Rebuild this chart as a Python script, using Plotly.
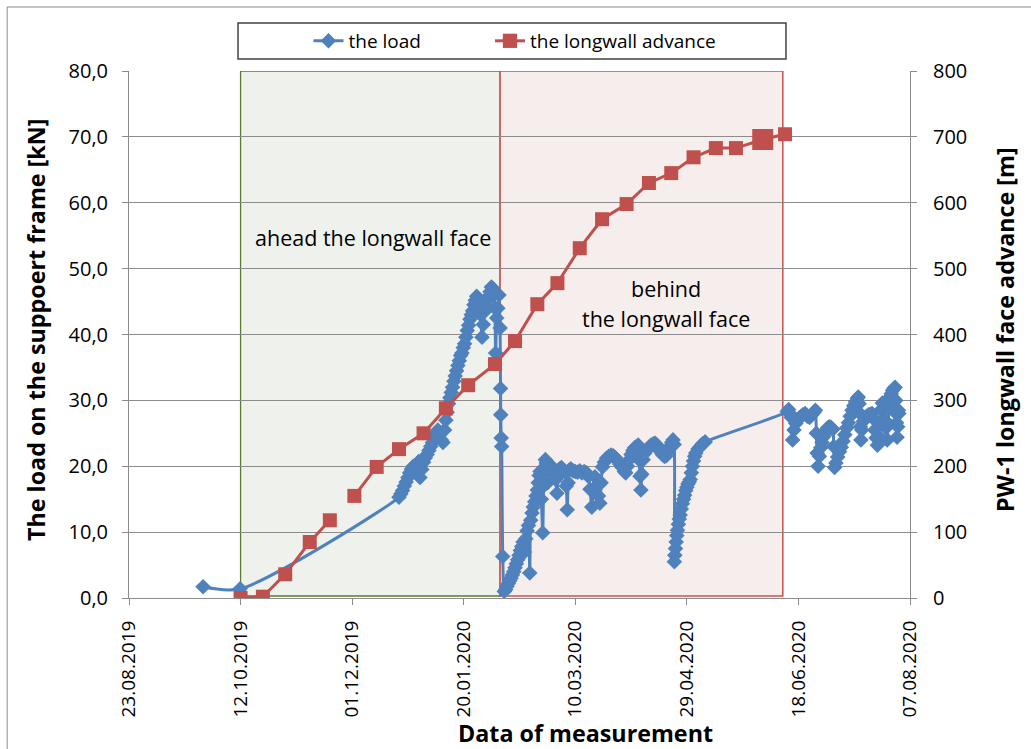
import pandas as pd
import plotly.graph_objects as go

BASE = "2019-08-23"

# ---- the longwall advance (right axis, m) ----
adv_date = ["2019-10-12", "2019-10-22", "2019-11-01", "2019-11-12", "2019-11-21", None,
            "2019-12-02", "2019-12-12", "2019-12-22", "2020-01-02", "2020-01-12",
            "2020-01-22", "2020-02-03", "2020-02-12", "2020-02-22", "2020-03-02",
            "2020-03-12", "2020-03-22", "2020-04-02", "2020-04-12", "2020-04-22",
            "2020-05-02", "2020-05-12", "2020-05-21", "2020-06-02", "2020-06-12"]
adv_val = [0, 2, 36, 85, 118, None,
           155, 199, 226, 250, 288,
           323, 355, 390, 446, 478,
           531, 575, 598, 630, 645,
           669, 683, 683, 696, 704]

# ---- the load (left axis, kN); days counted from 23.08.2019 ----
load_day = [33.2, 49.8, 121.0,
            121.8, 122.6, 123.4, 124.2, 125.0, 125.8, 126.6, 127.4, 128.2, 129.0, 129.8, 130.4,
            131.2, 132.0, 132.8, 133.6, 134.4, 135.2, 136.0, 136.8, 137.6, 138.4, 139.2, 140.0,
            140.7, 141.4, 142.0, 142.6, 143.2, 143.8, 144.4, 145.0, 145.6, 146.2, 146.8, 147.4,
            148.0, 148.6, 149.2, 149.8, 150.4, 151.0, 151.6, 152.2, 152.8, 153.4, 154.0, 154.6,
            155.2, 155.8, 156.4, 157.0, 157.6, 158.2, 158.8, 159.4, 160.0, 160.6, 161.2, 161.8,
            162.4, 163.0, 163.6, 164.0, 164.3, 164.8, 165.3, 165.8, 166.3, 166.5, 166.6, 166.8,
            167.0, 167.5, 168.2,
            168.8, 169.4, 170.0, 170.6, 171.2, 171.8, 172.4, 173.0, 173.6, 174.2, 174.8, 175.4,
            176.0, 176.6, 177.2, 177.8, 178.4, 179.0, 179.6, 180.0, 180.6, 181.2, 181.8, 182.4,
            183.0, 183.4, 183.8, 184.2, 184.8, 185.4, 185.8, 186.2, 186.6, 187.0, 187.6, 188.2,
            188.8, 189.4, 190.0, 190.6, 191.2, 191.8, 192.4, 193.0, 193.8, 194.6, 195.4, 196.0,
            196.4, 196.8, 197.2, 198.0, 199.0, 200.0, 201.0, 202.0, 203.0, 204.0, 205.0, 205.8,
            206.6, 207.4, 208.0, 208.8, 209.6, 210.4, 211.0, 211.6, 212.2, 213.0, 214.0, 215.0,
            216.0, 217.0, 218.0, 219.0, 220.0, 221.0, 222.0, 222.6, 223.4, 224.2, 225.0, 225.8,
            226.6, 227.4, 228.2, 228.6, 229.0, 229.4, 229.8, 230.4, 231.2, 232.0, 233.0, 234.0,
            235.0, 235.8, 236.6, 237.4, 238.2, 239.0, 240.0, 240.8, 241.6, 242.4, 243.2, 243.8,
            244.3, 244.4, 244.6, 244.9, 245.2, 245.5, 245.8, 246.2, 246.6, 247.0, 247.5, 248.0,
            248.5, 249.0, 249.5, 250.0, 250.5, 251.0, 251.5, 252.0, 252.5, 253.0, 253.5, 254.0,
            255.0, 256.0, 257.0, 258.2,
            295.0, 295.6, 296.2, 296.8, 297.4, 298.0, 298.8, 299.6, 300.4, 301.2, 302.0, 303.0,
            304.0, 305.0, 306.0, 307.0, 307.6, 308.0, 308.4, 308.8, 309.4, 310.0, 310.6, 311.4,
            312.2, 313.0, 313.8, 314.6, 315.4, 315.8, 316.2, 316.8, 317.6, 318.4, 319.2, 320.0,
            320.8, 321.6, 322.4, 323.2, 324.0, 324.8, 325.6, 326.4, 326.8, 327.2, 327.6, 327.8,
            328.0, 328.4, 329.0, 329.8, 330.6, 331.4, 332.2, 333.0, 333.6, 334.2, 334.8, 335.4,
            336.0, 336.6, 337.2, 337.6, 338.0, 338.6, 339.2, 339.8, 340.2, 340.6, 341.0, 341.6,
            342.2, 342.8, 343.3, 343.6, 343.8, 344.0, 344.2, 344.5, 344.8, 345.0]
load_val = [1.7, 1.4, 15.3,
            15.8, 16.3, 17.0, 17.6, 18.3, 19.0, 19.6, 20.0, 19.2, 20.3, 20.7, 18.3,
            19.5, 20.6, 21.3, 21.8, 22.4, 23.0, 23.6, 24.3, 25.0, 25.5, 24.8, 24.0,
            23.6, 25.5, 27.0, 28.2, 29.5, 30.4, 31.2, 32.0, 32.9, 33.7, 34.5, 35.3,
            36.0, 36.8, 37.2, 38.0, 38.6, 39.6, 40.6, 41.4, 42.3, 43.0, 43.6, 44.5,
            45.2, 45.8, 45.4, 44.8, 43.0, 39.6, 41.5, 43.5, 44.2, 45.2, 45.8, 46.5,
            47.2, 47.0, 46.4, 44.0, 37.2, 42.5, 44.0, 46.0, 41.0, 31.8, 27.8, 24.3,
            23.0, 6.3, 1.0,
            1.3, 1.8, 2.2, 2.6, 3.0, 3.5, 4.0, 4.6, 5.2, 5.8, 6.5, 7.2,
            7.8, 8.5, 7.0, 9.0, 10.2, 11.0, 3.8, 11.8, 12.9, 13.8, 14.6, 15.5,
            16.4, 17.5, 18.6, 19.2, 15.0, 9.9, 17.0, 19.8, 21.0, 20.5, 17.5, 19.5,
            20.2, 19.8, 19.4, 19.0, 18.0, 15.9, 18.5, 19.6, 19.8, 19.4, 19.2, 17.0,
            13.4, 17.5, 19.4, 19.6, 19.3, 19.2, 19.1, 19.3, 19.0, 19.2, 19.0, 18.5,
            16.5, 13.8, 16.5, 18.4, 17.0, 15.5, 14.4, 17.5, 19.9, 20.6, 21.2, 21.5,
            21.7, 21.6, 21.3, 20.8, 20.3, 19.8, 19.2, 19.0, 20.0, 21.0, 21.8, 22.4,
            22.8, 23.0, 23.2, 21.0, 18.5, 16.4, 18.8, 21.0, 22.0, 22.5, 22.9, 23.2,
            23.4, 23.5, 23.2, 22.8, 22.2, 21.8, 21.5, 21.6, 22.3, 23.0, 23.6, 24.0,
            23.3, 5.5, 6.5, 7.5, 8.5, 9.5, 10.3, 11.2, 12.0, 12.6, 13.5, 14.3,
            15.0, 15.6, 16.3, 16.8, 17.3, 17.6, 18.0, 19.0, 20.0, 20.8, 21.5, 22.0,
            22.6, 23.0, 23.4, 23.7,
            28.3, 28.6, 28.0, 27.4, 24.0, 25.5, 26.5, 27.0, 27.3, 27.6, 27.8, 28.0,
            27.6, 27.4, 27.8, 28.2, 28.5, 25.0, 22.0, 20.0, 21.5, 22.8, 23.6, 24.5,
            25.3, 25.8, 26.0, 25.9, 25.6, 23.0, 19.8, 20.5, 21.4, 22.2, 22.9, 23.8,
            24.8, 25.8, 26.6, 27.6, 28.5, 29.2, 29.8, 30.3, 30.5, 29.5, 28.0, 26.0,
            24.0, 25.5, 26.8, 27.4, 27.6, 27.8, 27.9, 28.0, 27.2, 25.5, 24.3, 23.2,
            24.5, 26.8, 28.6, 29.6, 28.5, 27.0, 25.8, 24.0, 26.5, 29.0, 30.5, 31.0,
            31.5, 31.8, 32.0, 30.0, 28.0, 26.6, 24.4, 26.0, 28.5, 28.0]

# zones (dates)
ahead_zone = ("2019-10-12", "2020-02-05 07:00")
behind_zone = ("2020-02-05 07:00", "2020-06-11")

load_dates = pd.Timestamp(BASE) + pd.to_timedelta(load_day, unit="D")

BLUE = "#4F81BD"
RED = "#C0504D"
GRID = "#8C8C8C"
FONT = "Open Sans"

fig = go.Figure()
fig.add_trace(go.Scatter(
    x=load_dates, y=load_val, name="the load", mode="lines+markers",
    line=dict(color=BLUE, width=3, shape="spline", smoothing=0.8),
    marker=dict(symbol="diamond", size=12, color=BLUE, opacity=1),
    legend="legend",
))
adv_sizes = [14] * len(adv_val)
adv_sizes[-2] = 21
fig.add_trace(go.Scatter(
    x=adv_date, y=adv_val, name="the longwall advance", mode="lines+markers",
    line=dict(color=RED, width=3), connectgaps=False,
    marker=dict(symbol="square", size=adv_sizes, color=RED, opacity=1,
                line=dict(color=RED, width=0)),
    yaxis="y2", legend="legend2",
))

shapes = [
    dict(type="rect", xref="x", yref="y", x0=ahead_zone[0], x1=ahead_zone[1], y0=0.3, y1=80,
         fillcolor="#EFF2EC", line=dict(color="#5B7A2E", width=1.3), layer="below"),
    dict(type="rect", xref="x", yref="y", x0=behind_zone[0], x1=behind_zone[1], y0=0.3, y1=80,
         fillcolor="#F6EEEC", line=dict(color="#C9504D", width=1.5), layer="below"),
    # legend box
    dict(type="rect", xref="paper", yref="paper", x0=0.1396, x1=0.8412, y0=1.0228, y1=1.0911,
         line=dict(color="#404040", width=1.5), fillcolor="rgba(0,0,0,0)"),
    # chart border (top and left)
    dict(type="line", xref="paper", yref="paper", x0=-0.156, x1=1.2, y0=1.1214, y1=1.1214,
         line=dict(color="#8C8C8C", width=1)),
    dict(type="line", xref="paper", yref="paper", x0=-0.156, x1=-0.156, y0=1.1214, y1=-0.3,
         line=dict(color="#8C8C8C", width=1)),
]

def ann(text, x, y, size, angle=0):
    return dict(text=text, xref="paper", yref="paper", x=x, y=y, xanchor="center",
                yanchor="middle", textangle=angle, showarrow=False,
                font=dict(size=size, color="black", family=FONT))

annotations = [
    ann("ahead the longwall face", 0.3124, 0.685, 21.5),
    ann("behind", 0.6876, 0.588, 21.5),
    ann("the longwall face", 0.6876, 0.531, 21.5),
    ann("<b>The load on the suppoert frame [kN]</b>", -0.119, 0.5085, 23.3, -90),
    ann("<b>PW-1 longwall face advance [m]</b>", 1.1215, 0.51, 23.3, -90),
    ann("<b>Data of measurement</b>", 0.585, -0.256, 23.3),
]

legend_common = dict(orientation="h", yanchor="middle", y=1.057, xanchor="left",
                     font=dict(size=19, color="black"), bgcolor="rgba(0,0,0,0)",
                     borderwidth=0)

fig.update_layout(
    width=1031, height=749,
    margin=dict(l=129, r=121, t=71, b=151),
    paper_bgcolor="white", plot_bgcolor="white",
    font=dict(family=FONT, size=18, color="black"),
    separators=", ",
    showlegend=True,
    legend=dict(x=0.2298, **legend_common),
    legend2=dict(x=0.4622, **legend_common),
    shapes=shapes,
    annotations=annotations,
    xaxis=dict(
        type="date", range=["2019-08-23", "2020-08-07"],
        tick0="2019-08-23", dtick=50 * 86400000, tickformat="%d.%m.%Y",
        tickangle=-90, ticks="outside", ticklen=6, tickcolor=GRID,
        showline=True, linecolor=GRID, linewidth=1, showgrid=False, zeroline=False,
        tickfont=dict(size=19), ticklabelstandoff=8,
    ),
    yaxis=dict(
        range=[0, 80], dtick=10, tickformat=".1f", ticks="outside", ticklen=6,
        tickcolor=GRID, showline=True, linecolor=GRID, linewidth=1,
        showgrid=True, gridcolor=GRID, gridwidth=1, zeroline=False,
        tickfont=dict(size=20), ticklabelstandoff=10,
    ),
    yaxis2=dict(
        range=[0, 800], dtick=100, overlaying="y", side="right", ticks="outside",
        ticklen=6, tickcolor=GRID, showline=True, linecolor=GRID, linewidth=1,
        showgrid=False, zeroline=False, tickfont=dict(size=20), ticklabelstandoff=12,
    ),
)

fig.write_html("out.html")
